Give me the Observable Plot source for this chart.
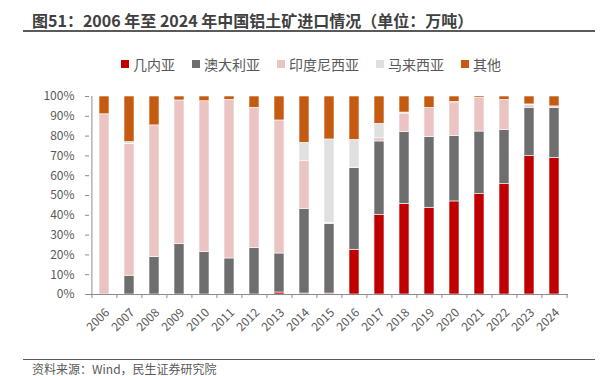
<!DOCTYPE html>
<html>
<head>
<meta charset="utf-8">
<script src="https://cdn.jsdelivr.net/npm/d3@7"></script>
<script src="https://cdn.jsdelivr.net/npm/@observablehq/plot@0.6"></script>
<style>
  body { margin: 0; background: #fff; font-family: "Noto Sans CJK SC", "Noto Sans", sans-serif; }
  #wrap { position: relative; width: 606px; height: 376px; overflow: hidden; }
  #title { position: absolute; left: 32px; top: 10px; font-size: 16px; line-height: 20px; font-weight: bold; color: #404040; white-space: nowrap; }
  #tline { position: absolute; left: 23px; top: 30px; width: 572px; height: 2px; background: #5a5a5a; }
  #legend { position: absolute; left: 121px; top: 56px; display: flex; align-items: center; font-size: 14px; line-height: 16px; color: #595959; white-space: nowrap; }
  .item { display: flex; align-items: center; margin-right: 17px; }
  .sw { width: 8px; height: 8px; margin-right: 4px; }
  #bline { position: absolute; left: 23px; top: 358.5px; width: 572px; height: 1.5px; background: #5a5a5a; }
  #source { position: absolute; left: 32px; top: 362px; font-size: 12px; line-height: 13px; color: #595959; white-space: nowrap; }
  #chart { position: absolute; left: 0; top: 0; }
</style>
</head>
<body>
<div id="wrap">
  <div id="chart"></div>
  <div id="title">图51：2006 年至 2024 年中国铝土矿进口情况（单位：万吨）</div>
  <div id="tline"></div>
  <div id="legend"></div>
  <div id="bline"></div>
  <div id="source">资料来源：Wind，民生证券研究院</div>
</div>
<script>
const years = ["2006","2007","2008","2009","2010","2011","2012","2013","2014","2015","2016","2017","2018","2019","2020","2021","2022","2023","2024"];
const seriesNames = ["几内亚","澳大利亚","印度尼西亚","马来西亚","其他"];
const seriesColors = ["#C00000","#6E6E6E","#EBC3C3","#E0E0E0","#C55A11"];
const guinea    = [0,0,0,0,0,0,0,1,0.5,0.5,22.6,40.1,45.8,43.8,47,50.7,55.7,69.9,69];
const australia = [0,9.5,18.9,25.4,21.4,18.2,23.4,19.7,42.8,35.2,41.2,37.2,36.2,35.7,33.1,31.6,27.3,24.4,25.1];
const indonesia = [91,66.5,66.5,72.6,76.2,80.1,70.9,67.2,24,0.5,0.3,1.6,9.4,14.8,16.9,17,15.3,1.2,0.9];
const malaysia  = [0,1,0,0,0,0,0,0,9.3,42.1,14,7.3,0.5,0,0.3,0,0,0.5,0];
const other     = [9,23,14.6,2,2.4,1.7,5.7,12.1,23.4,21.7,21.9,13.8,8.1,5.7,2.7,0.7,1.7,4,5];
const yTicks = [0,10,20,30,40,50,60,70,80,90,100];

const seriesValues = [guinea, australia, indonesia, malaysia, other];
const rows = [];
seriesNames.forEach((s, si) => years.forEach((y, yi) => rows.push({year: y, series: s, value: seriesValues[si][yi]})));

const W = 606, H = 376, mL = 89, mR = 38, mT = 96, mB = 82;
const step = (W - mL - mR) / years.length;
const axisColor = "#8c8c8c";
const textColor = "#595959";

const chart = Plot.plot({
  width: W, height: H,
  marginLeft: mL, marginRight: mR, marginTop: mT, marginBottom: mB,
  style: {fontFamily: "'Noto Sans CJK SC', sans-serif", fontSize: "12px", color: textColor, background: "transparent"},
  x: {domain: years, paddingInner: 0.6, paddingOuter: 0.3, axis: null},
  y: {domain: [0, 100], axis: null},
  color: {domain: seriesNames, range: seriesColors},
  marks: [
    Plot.barY(rows, {x: "year", y: "value", fill: "series", stroke: "white", strokeWidth: 0.6, order: seriesNames}),
    Plot.ruleY([0], {stroke: axisColor, strokeWidth: 1}),
    Plot.ruleX([years[0]], {y1: 0, y2: 100, dx: -step / 2, stroke: axisColor, strokeWidth: 1}),
    Plot.ruleX(years, {y1: 0, y2: 0, insetBottom: -4, dx: -step / 2, stroke: axisColor}),
    Plot.ruleX([years[years.length - 1]], {y1: 0, y2: 0, insetBottom: -4, dx: step / 2, stroke: axisColor}),
    Plot.axisY({ticks: yTicks, tickSize: 4, tickPadding: 11, tickFormat: d => d + "%", stroke: axisColor, color: textColor, fontSize: 12, label: null}),
    Plot.text(years, {x: d => d, y: 0, text: d => d, rotate: -45, textAnchor: "end", dx: 3, dy: 16, fill: textColor, fontSize: 12})
  ]
});
document.getElementById("chart").appendChild(chart);

const legend = document.getElementById("legend");
seriesNames.forEach((s, i) => {
  const it = document.createElement("div");
  it.className = "item";
  const sw = document.createElement("div");
  sw.className = "sw";
  sw.style.background = seriesColors[i];
  const t = document.createElement("span");
  t.textContent = s;
  it.appendChild(sw); it.appendChild(t);
  legend.appendChild(it);
});
</script>
</body>
</html>
